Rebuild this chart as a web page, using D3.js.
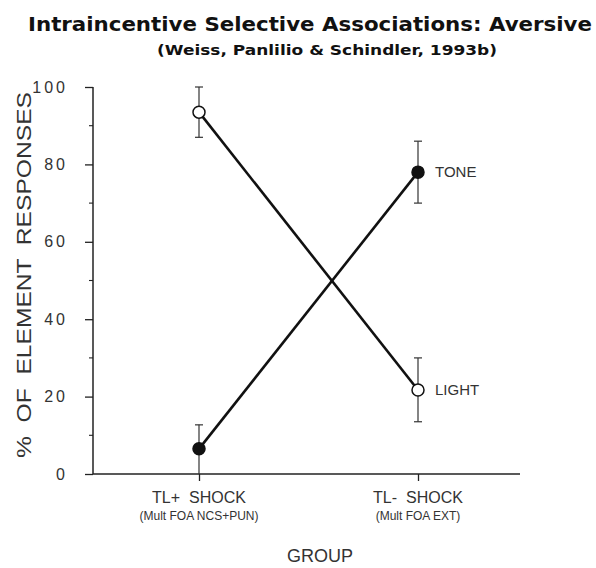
<!DOCTYPE html>
<html><head><meta charset="utf-8">
<script src="https://cdn.jsdelivr.net/npm/d3@7"></script>
<style>body{margin:0;background:#fff}svg{display:block}text{white-space:pre}</style>
</head><body>
<script>
const groups = ["TL+  SHOCK", "TL-  SHOCK"];
const subLabels = ["(Mult FOA NCS+PUN)", "(Mult FOA EXT)"];
const seriesNames = ["LIGHT", "TONE"];
const lightMean = [93.5, 21.7];
const lightLow = [87, 13.5];
const lightHigh = [100, 30];
const toneMean = [6.5, 78];
const toneLow = [0, 70];
const toneHigh = [12.7, 86];
const yTicks = [0, 20, 40, 60, 80, 100];
const yMinor = [10, 30, 50, 70, 90];

const W = 596, H = 568;
const svg = d3.select("body").append("svg").attr("width", W).attr("height", H);
const x = d3.scalePoint().domain(groups).range([199, 418]);
const y = d3.scaleLinear().domain([0, 100]).range([474, 87]);
const ink = "#222";

svg.append("text").attr("x", 310).attr("y", 31).attr("text-anchor", "middle")
  .attr("font-family", "DejaVu Sans").attr("font-weight", "bold").attr("font-size", 19)
  .attr("textLength", 564).attr("lengthAdjust", "spacingAndGlyphs").attr("fill", "#111")
  .text("Intraincentive Selective Associations: Aversive");
svg.append("text").attr("x", 327).attr("y", 55).attr("text-anchor", "middle")
  .attr("font-family", "DejaVu Sans").attr("font-weight", "bold").attr("font-size", 14)
  .attr("textLength", 340).attr("lengthAdjust", "spacingAndGlyphs").attr("fill", "#111")
  .text("(Weiss, Panlilio & Schindler, 1993b)");

// y axis
const yAxis = d3.axisLeft(y).tickValues(yTicks).tickSize(8).tickPadding(17).tickFormat(d3.format("d"));
const gy = svg.append("g").attr("transform", "translate(93,0)").call(yAxis);
gy.select(".domain").attr("d", `M0,${y(100)}H-0V${y(0)}`).attr("stroke", ink).attr("stroke-width", 1.5);
gy.selectAll(".tick line").attr("stroke", ink).attr("stroke-width", 1.3);
gy.selectAll(".tick text").attr("font-family", "Liberation Sans").attr("font-size", 16)
  .attr("letter-spacing", 3).attr("fill", "#333");
gy.selectAll(".minor").data(yMinor).enter().append("line")
  .attr("x1", -4).attr("x2", 0).attr("y1", d => y(d)).attr("y2", d => y(d))
  .attr("stroke", ink).attr("stroke-width", 1.1);

// x axis
const xAxis = d3.axisBottom(x).tickSize(7).tickFormat("");
const gx = svg.append("g").attr("transform", `translate(0,${y(0)})`).call(xAxis);
gx.select(".domain").attr("d", "M93,0H520").attr("stroke", ink).attr("stroke-width", 1.5);
gx.selectAll(".tick line").attr("stroke", ink).attr("stroke-width", 1.3);
groups.forEach((g, i) => {
  svg.append("text").attr("x", x(g)).attr("y", 503).attr("text-anchor", "middle")
    .attr("font-family", "Liberation Sans").attr("font-size", 16).attr("fill", "#333").text(g);
  svg.append("text").attr("x", x(g)).attr("y", 520).attr("text-anchor", "middle")
    .attr("font-family", "Liberation Sans").attr("font-size", 12).attr("fill", "#333").text(subLabels[i]);
});
svg.append("text").attr("x", 320).attr("y", 562).attr("text-anchor", "middle")
  .attr("font-family", "Liberation Sans").attr("font-size", 18).attr("fill", "#333").text("GROUP");
svg.append("text").attr("transform", "translate(31,275) rotate(-90)").attr("text-anchor", "middle")
  .attr("font-family", "Liberation Sans").attr("font-size", 20).attr("fill", "#333")
  .attr("textLength", 366).attr("lengthAdjust", "spacingAndGlyphs").text("%  OF  ELEMENT  RESPONSES");

const series = [
  {name: seriesNames[0], mean: lightMean, lo: lightLow, hi: lightHigh, filled: false},
  {name: seriesNames[1], mean: toneMean, lo: toneLow, hi: toneHigh, filled: true}
];
const line = d3.line().x((d, i) => x(groups[i])).y(d => y(d));
series.forEach(s => {
  svg.append("path").attr("d", line(s.mean)).attr("fill", "none").attr("stroke", "#111").attr("stroke-width", 2.6);
});
series.forEach(s => {
  groups.forEach((g, i) => {
    const cx = x(g);
    svg.append("line").attr("x1", cx).attr("x2", cx).attr("y1", y(s.hi[i])).attr("y2", y(s.lo[i]))
      .attr("stroke", "#333").attr("stroke-width", 1.2);
    [s.hi[i], s.lo[i]].forEach(v => {
      if (v > 0) svg.append("line").attr("x1", cx - 4).attr("x2", cx + 4).attr("y1", y(v)).attr("y2", y(v))
        .attr("stroke", "#333").attr("stroke-width", 1.2);
    });
  });
});
series.forEach(s => {
  groups.forEach((g, i) => {
    svg.append("circle").attr("cx", x(g)).attr("cy", y(s.mean[i])).attr("r", 6)
      .attr("fill", s.filled ? "#111" : "#fff").attr("stroke", "#111").attr("stroke-width", 1.5);
  });
  const last = s.mean.length - 1;
  svg.append("text").attr("x", x(groups[last]) + 17).attr("y", y(s.mean[last]) + 5)
    .attr("font-family", "Liberation Sans").attr("font-size", 15).attr("fill", "#333").text(s.name);
});
</script>
</body></html>
